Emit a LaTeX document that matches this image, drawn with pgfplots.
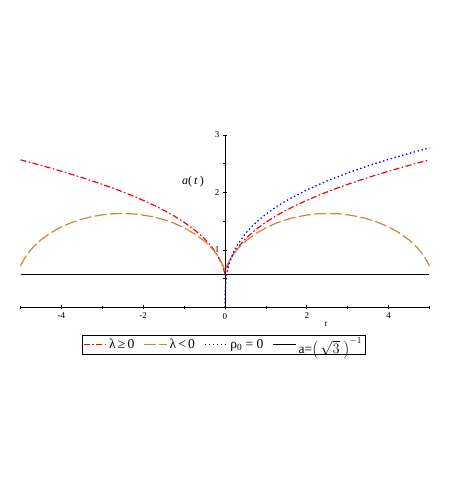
\documentclass[border=0pt]{standalone}
\usepackage{fontspec}
\setmainfont{Liberation Serif}
\usepackage{pgfplots}
\pgfplotsset{compat=1.18}
\definecolor{myorange}{RGB}{205,133,63}
\begin{document}
\begin{tikzpicture}[x=1pt,y=1pt]
\useasboundingbox (0,0) rectangle (463,491);
\begin{axis}[
  at={(20.5pt,183.5pt)}, anchor=south west,
  scale only axis, width=409pt, height=172.5pt,
  xmin=-5, xmax=5, ymin=0, ymax=3,
  axis lines=middle, axis line style={-, line width=0.8pt},
  xtick={-4,-2,0,2,4}, ytick={1,2,3},
  xticklabels={{-4},{-2},{0},{2},{4}},
  minor xtick={-5,-3,-1,1,3,5}, minor ytick={0.5,1.5,2.5},
  major tick length=4pt, minor tick length=3pt,
  tick style={black, line width=0.6pt},
  hide obscured x ticks=false,
  tick label style={font=\fontsize{9}{10}\selectfont},
  /pgf/number format/assume math mode=true,
  xlabel={\textit{t}}, xlabel style={at={(axis description cs:0.747,-0.093)}, anchor=center, inner sep=0pt, font=\fontsize{9}{10}\selectfont},
  ylabel={\textit{a}(\,\textit{t}\,)}, ylabel style={at={(axis description cs:0.4218,0.727)}, anchor=center, rotate=0, font=\fontsize{12}{13}\selectfont},
  clip=false,
  legend style={at={(axis description cs:0.1496,-0.158)}, anchor=north west, legend columns=4, draw=black, line width=0.6pt,
    font=\fontsize{13.5}{14}\selectfont, inner sep=1pt,
    /tikz/every even column/.append style={column sep=7pt}},
  legend image code/.code={\draw[#1] (0pt,0pt) -- (23pt,0pt);},
]
\addplot[red, line width=1.2pt, dash pattern=on 6pt off 2.5pt on 1.5pt off 2.5pt] coordinates {
(-5,2.568) (-4.75,2.521) (-4.5,2.472) (-4.25,2.422) (-4,2.370) (-3.75,2.316) (-3.5,2.260) (-3.25,2.202) (-3,2.141) (-2.75,2.078) (-2.5,2.011) (-2.25,1.940) (-2,1.863) (-1.75,1.782) (-1.5,1.693) (-1.25,1.594) (-1,1.483) (-0.75,1.354) (-0.5,1.196) (-0.3,1.032) (-0.2,0.926) (-0.1,0.790) (-0.05,0.699) (-0.02,0.632) (0,0.577)
(0.02,0.632) (0.05,0.699) (0.1,0.790) (0.2,0.926) (0.3,1.032) (0.5,1.196) (0.75,1.354) (1,1.483) (1.25,1.594) (1.5,1.693) (1.75,1.782) (2,1.863) (2.25,1.940) (2.5,2.011) (2.75,2.078) (3,2.141) (3.25,2.202) (3.5,2.260) (3.75,2.316) (4,2.370) (4.25,2.422) (4.5,2.472) (4.75,2.521) (5,2.568)};
\addlegendentry{λ\,≥\,0}
\addplot[myorange, line width=1.2pt, dash pattern=on 12pt off 3.5pt] coordinates {
(-5,0.718) (-4.95,0.793) (-4.85,0.911) (-4.7,1.043) (-4.5,1.176) (-4.25,1.303) (-4,1.401) (-3.75,1.477) (-3.5,1.537) (-3.25,1.581) (-3,1.612) (-2.75,1.630) (-2.5,1.635) (-2.25,1.628) (-2,1.608) (-1.75,1.575) (-1.5,1.529) (-1.25,1.467) (-1,1.387) (-0.75,1.284) (-0.5,1.152) (-0.4,1.087) (-0.3,1.011) (-0.2,0.921) (-0.1,0.806) (-0.05,0.734) (0,0.644)
(0.05,0.734) (0.1,0.806) (0.2,0.921) (0.3,1.011) (0.4,1.087) (0.5,1.152) (0.75,1.284) (1,1.387) (1.25,1.467) (1.5,1.529) (1.75,1.575) (2,1.608) (2.25,1.628) (2.5,1.635) (2.75,1.630) (3,1.612) (3.25,1.581) (3.5,1.537) (3.75,1.477) (4,1.401) (4.25,1.303) (4.5,1.176) (4.7,1.043) (4.85,0.911) (4.95,0.793) (5,0.718)};
\addlegendentry{λ\,<\,0}
\addplot[blue, line width=1.3pt, dash pattern=on 1.4pt off 2.6pt] coordinates {
(0,0) (0.0005,0.129) (0.002,0.204) (0.005,0.278) (0.01,0.350) (0.02,0.440) (0.05,0.598) (0.1,0.753) (0.2,0.949) (0.3,1.086) (0.5,1.288) (0.75,1.475) (1,1.623) (1.25,1.748) (1.5,1.858) (2,2.045) (2.5,2.203) (3,2.341) (3.5,2.464) (4,2.576) (4.5,2.680) (5,2.775)};
\addlegendentry{ρ\textsubscript{0} = 0}
\addplot[black, line width=1.2pt] coordinates {(-5,0.577) (5,0.577)};
\addlegendentry{\raisebox{-4pt}{a=$\left(\,\sqrt{3}\;\right)^{-1}$}}
\end{axis}
\end{tikzpicture}
\end{document}
